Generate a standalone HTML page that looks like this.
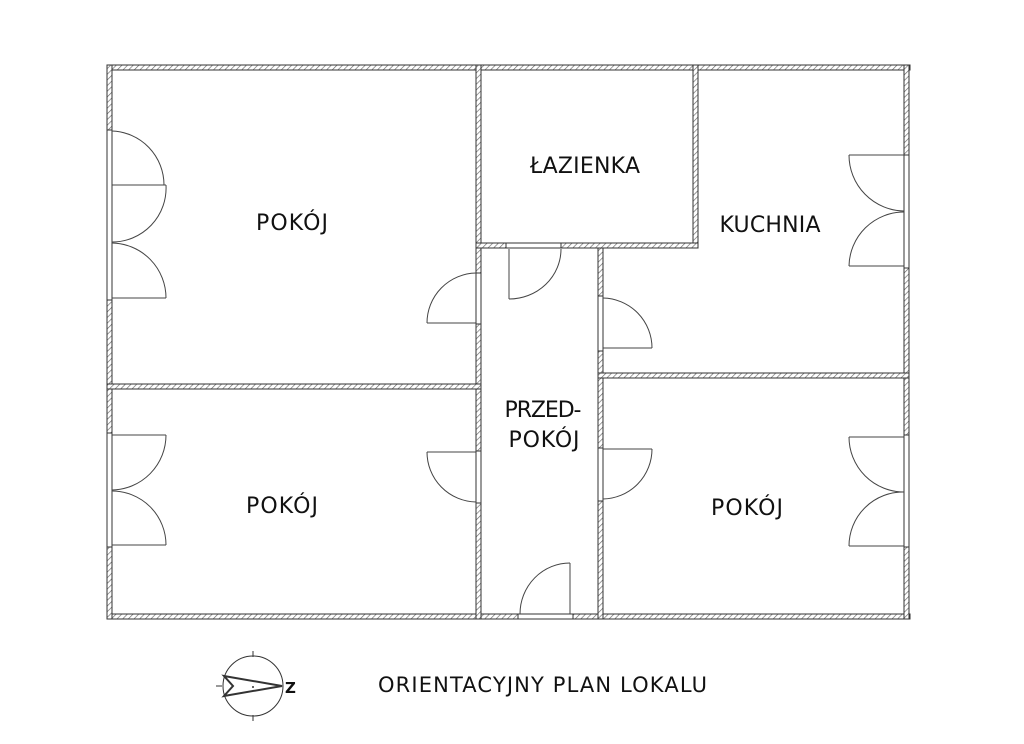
<!DOCTYPE html>
<html><head><meta charset="utf-8"><style>
html,body{margin:0;padding:0;background:#fff;}
svg{display:block;}
text{font-family:"DejaVu Sans","Liberation Sans",sans-serif;font-size:22px;fill:#111;}
</style></head><body>
<svg width="1024" height="744" viewBox="0 0 1024 744" xmlns="http://www.w3.org/2000/svg">
<defs>
<pattern id="h" width="4" height="4" patternUnits="userSpaceOnUse" patternTransform="rotate(45)">
<rect width="4" height="4" fill="#fff"/><line x1="0" y1="0" x2="0" y2="4" stroke="#666" stroke-width="1.3"/>
</pattern>
</defs>
<g fill="url(#h)" stroke="#333" stroke-width="1">
<rect x="107" y="65" width="803" height="5"/>
<rect x="107" y="614" width="803" height="5"/>
<rect x="107" y="65" width="5" height="554"/>
<rect x="904" y="65" width="5" height="554"/>
<rect x="476" y="65" width="5" height="554"/>
<rect x="598" y="243" width="5" height="376"/>
<rect x="693" y="65" width="5" height="183"/>
<rect x="476" y="243" width="222" height="5"/>
<rect x="107" y="384" width="374" height="5"/>
<rect x="598" y="373" width="311" height="5"/>
</g>
<g fill="#fff" stroke="#333" stroke-width="1">
<rect x="107" y="130" width="5" height="170"/>
<rect x="107" y="433" width="5" height="114"/>
<rect x="904" y="155" width="5" height="113"/>
<rect x="904" y="435" width="5" height="112"/>
<rect x="476" y="273" width="5" height="51"/>
<rect x="476" y="451" width="5" height="52"/>
<rect x="598" y="296" width="5" height="55"/>
<rect x="598" y="448" width="5" height="53"/>
<rect x="506" y="243" width="55" height="5"/>
<rect x="518" y="614" width="55" height="5"/>
</g>
<g fill="none" stroke="#444" stroke-width="1">
<line x1="112" y1="185" x2="166" y2="185"/>
<path d="M112 131 A54 54 0 0 1 164 185"/>
<path d="M166 185 A54 54 0 0 1 112 242"/>
<path d="M112 243 A55 55 0 0 1 166 298"/>
<line x1="112" y1="298" x2="166" y2="298"/>
<line x1="112" y1="435" x2="166" y2="435"/>
<path d="M166 435 A55 55 0 0 1 112 490"/>
<path d="M112 491 A54 54 0 0 1 166 545"/>
<line x1="112" y1="545" x2="166" y2="545"/>
<line x1="849" y1="155" x2="904" y2="155"/>
<path d="M849 155 A56 56 0 0 0 904 211"/>
<path d="M904 212 A55 55 0 0 0 849 266"/>
<line x1="849" y1="266" x2="904" y2="266"/>
<line x1="849" y1="437" x2="904" y2="437"/>
<path d="M849 437 A55 55 0 0 0 904 492"/>
<path d="M904 492 A54 54 0 0 0 849 546"/>
<line x1="849" y1="546" x2="904" y2="546"/>
<line x1="427" y1="323" x2="476" y2="323"/>
<path d="M476 273 A50 50 0 0 0 427 323"/>
<line x1="427" y1="452" x2="476" y2="452"/>
<path d="M427 452 A50 50 0 0 0 476 502"/>
<line x1="509" y1="249" x2="509" y2="299"/>
<path d="M561 249 A52 50 0 0 1 509 299"/>
<line x1="603" y1="348" x2="652" y2="348"/>
<path d="M603 298 A50 50 0 0 1 652 348"/>
<line x1="603" y1="449" x2="652" y2="449"/>
<path d="M652 449 A50 50 0 0 1 603 499"/>
<line x1="570" y1="563" x2="570" y2="614"/>
<path d="M570 563 A50 51 0 0 0 520 614"/>
</g>
<text x="292" y="230" text-anchor="middle" textLength="72">POKÓJ</text>
<text x="585" y="173" text-anchor="middle" textLength="110">ŁAZIENKA</text>
<text x="770" y="232" text-anchor="middle" textLength="101">KUCHNIA</text>
<text x="543" y="417" text-anchor="middle" textLength="77">PRZED-</text>
<text x="544" y="447" text-anchor="middle" textLength="71">POKÓJ</text>
<text x="282" y="513" text-anchor="middle" textLength="72">POKÓJ</text>
<text x="747" y="515" text-anchor="middle" textLength="72">POKÓJ</text>
<text x="378" y="692" style="font-size:21px" textLength="329">ORIENTACYJNY PLAN LOKALU</text>
<g fill="none" stroke="#333">
<circle cx="253" cy="686" r="30" stroke-width="1"/>
<line x1="253" y1="651" x2="253" y2="657"/>
<line x1="253" y1="715" x2="253" y2="721"/>
<line x1="216" y1="686" x2="222" y2="686"/>
<path d="M224 676 L282 686 L224 696 L233 686 Z" stroke-width="2"/>
</g>
<circle cx="253" cy="687" r="1" fill="#333"/>
<text x="285" y="693" style="font-size:15px;font-weight:bold">Z</text>
</svg>
</body></html>
